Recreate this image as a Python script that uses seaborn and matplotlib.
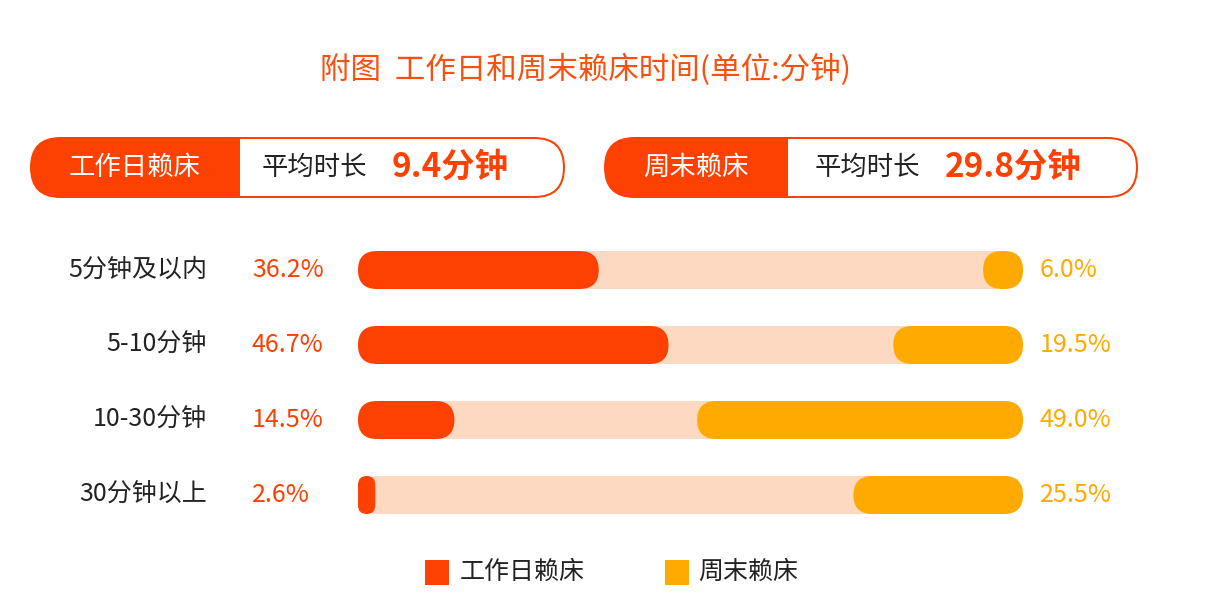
import matplotlib
matplotlib.use("Agg")
import matplotlib.pyplot as plt
import seaborn as sns
import pandas as pd
from matplotlib.patches import FancyBboxPatch, Rectangle

sns.set_theme(style="white")
plt.rcParams['font.family'] = ['Noto Sans CJK SC', 'DejaVu Sans']

categories = ["5分钟及以内", "5-10分钟", "10-30分钟", "30分钟以上"]
workday = [36.2, 46.7, 14.5, 2.6]
weekend = [6.0, 19.5, 49.0, 25.5]
title = "附图  工作日和周末赖床时间(单位:分钟)"
series_names = ["工作日赖床", "周末赖床"]
averages = ["9.4分钟", "29.8分钟"]

RED = "#FC4103"
ORANGE = "#FFAA00"
TRACK = "#FDD9C2"
W, H = 1206, 616

fig = plt.figure(figsize=(W / 100, H / 100), dpi=100)
ax = fig.add_axes([358 / W, (H - 532.5) / H, 665 / W, 300 / H])

df = pd.DataFrame({"cat": categories, "work": workday, "week": weekend, "full": [100] * 4})
sns.barplot(data=df, y="cat", x="full", color=TRACK, width=38 / 75, ax=ax, orient="h", saturation=1)
sns.barplot(data=df, y="cat", x="work", color=RED, width=38 / 75, ax=ax, orient="h", saturation=1)
ax.barh(range(4), df["week"], left=100 - df["week"], height=38 / 75, color=ORANGE)
ax.set_xlim(0, 100)
ax.set_ylim(3.5, -0.5)
ax.axis("off")

fig.canvas.draw()
patches = list(ax.patches)
for p in patches:
    bb = p.get_window_extent()
    col = p.get_facecolor()
    p.remove()
    r = min(bb.width, bb.height) / 2
    fb = FancyBboxPatch((bb.x0 + r * 0, bb.y0), bb.width, bb.height,
                        boxstyle=f"round,pad=0,rounding_size={r}",
                        transform=None, facecolor=col, edgecolor="none")
    fig.patches.append(fb)

def ftxt(x, y, s, **kw):
    fig.text(x / W, 1 - y / H, s, **kw)

ftxt(585, 70, title, ha="center", va="center", fontsize=22, color="#F8500E")

for i, c in enumerate(categories):
    y = 270 + 75 * i
    ftxt(207, y, c, ha="right", va="center", fontsize=18, color="#222222")
    ftxt(252, y, f"{workday[i]:.1f}%", ha="left", va="center", fontsize=18, color=RED)
    ftxt(1040, y, f"{weekend[i]:.1f}%", ha="left", va="center", fontsize=18, color=ORANGE)

# pills
pills = [(30, 565, 240, 262, 392), (604, 1138, 788, 815, 945)]
for k, (x0, x1, split, tx, nx) in enumerate(pills):
    y0, y1 = H - 198, H - 137
    h = y1 - y0
    outer = FancyBboxPatch((x0, y0), x1 - x0, h, boxstyle=f"round,pad=0,rounding_size={h/2}",
                           transform=None, facecolor=RED, edgecolor="none")
    fig.patches.append(outer)
    inner = FancyBboxPatch((x0 + 2, y0 + 2), x1 - x0 - 4, h - 4,
                           boxstyle=f"round,pad=0,rounding_size={h/2-2}",
                           transform=None, facecolor="white", edgecolor="none")
    fig.patches.append(inner)
    clip = Rectangle((split, 0), W, H, transform=None)
    inner.set_clip_path(clip)
    ftxt((x0 + split) / 2, 167, series_names[k], ha="center", va="center", fontsize=19, color="white")
    ftxt(tx, 167, "平均时长", ha="left", va="center", fontsize=19, color="#222222")
    ftxt(nx, 167, averages[k], ha="left", va="center", fontsize=24, color=RED, fontweight="bold")

# legend
for (sx, tx, col, name) in [(425, 460, RED, series_names[0]), (665, 698, ORANGE, series_names[1])]:
    fig.patches.append(Rectangle((sx, H - 585), 24, 25, transform=None, facecolor=col, edgecolor="none"))
    ftxt(tx, 572, name, ha="left", va="center", fontsize=18, color="#222222")

fig.savefig("out.png", dpi=100)
